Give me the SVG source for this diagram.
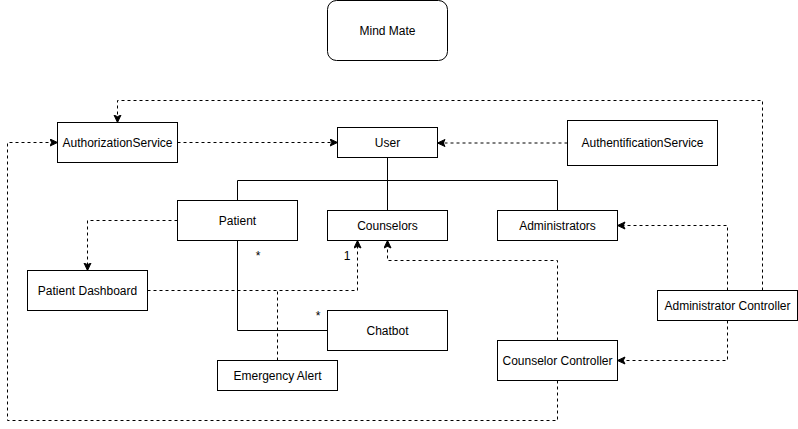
<svg xmlns="http://www.w3.org/2000/svg" width="798" height="429" viewBox="0 0 798 429">
<style>
.box{fill:#fff;stroke:#000;stroke-width:1}
.lbl{font-family:"Liberation Sans",Arial,sans-serif;font-size:12px;fill:#000;text-anchor:middle}
.ln{fill:none;stroke:#000;stroke-width:1}
.dash{fill:none;stroke:#000;stroke-width:1;stroke-dasharray:3 3}
</style>
<defs>
<marker id="arr" markerUnits="userSpaceOnUse" markerWidth="10" markerHeight="10" refX="8" refY="4" orient="auto">
<path d="M0.5,0.5 L8,4 L0.5,7.5 L2.2,4 Z" fill="#000" stroke="#000" stroke-width="1"/>
</marker>
</defs>
<rect width="798" height="429" fill="#fff"/>
<g id="connectors">
<path class="ln" d="M387.5,157.5 V210.5 M237.5,200.5 V180.5 H557.5 V210.5"/>
<path class="ln" d="M237.5,240.5 V330.5 H327.5"/>
<path class="dash" d="M177.5,142.5 H337.5" marker-end="url(#arr)"/>
<path class="dash" d="M567.5,143 H437.5" marker-end="url(#arr)"/>
<path class="dash" d="M177.5,220.5 H87.5 V270.5" marker-end="url(#arr)"/>
<path class="dash" d="M147.5,290.5 H357.5 V240.5" marker-end="url(#arr)"/>
<path class="dash" d="M277.5,360.5 V290.5"/>
<path class="dash" d="M557.5,340.5 V260.5 H387.5 V240.5" marker-end="url(#arr)"/>
<path class="dash" d="M557.5,380.5 V420.5 H7.5 V142.5 H57.5" marker-end="url(#arr)"/>
<path class="dash" d="M762.5,290.5 V100.5 H117.5 V122.5" marker-end="url(#arr)"/>
<path class="dash" d="M727.5,290.5 V225.5 H617.5" marker-end="url(#arr)"/>
<path class="dash" d="M727.5,320.5 V360.5 H617.5" marker-end="url(#arr)"/>
<text class="lbl" x="258" y="260">*</text>
<text class="lbl" x="347" y="260">1</text>
<text class="lbl" x="318" y="320">*</text>
</g>
<g id="mindmate"><rect class="box" x="327.5" y="0.5" width="120" height="60" rx="9"/><text class="lbl" x="387.5" y="35">Mind Mate</text></g>
<g id="authorization"><rect class="box" x="57.5" y="122.5" width="120" height="40"/><text class="lbl" x="117.5" y="147">AuthorizationService</text></g>
<g id="user"><rect class="box" x="337.5" y="127.5" width="100" height="30"/><text class="lbl" x="387.5" y="147">User</text></g>
<g id="authentification"><rect class="box" x="567.5" y="120.5" width="150" height="45"/><text class="lbl" x="642.5" y="147">AuthentificationService</text></g>
<g id="patient"><rect class="box" x="177.5" y="200.5" width="120" height="40"/><text class="lbl" x="237.5" y="225">Patient</text></g>
<g id="counselors"><rect class="box" x="327.5" y="210.5" width="120" height="30"/><text class="lbl" x="387.5" y="230">Counselors</text></g>
<g id="administrators"><rect class="box" x="497.5" y="210.5" width="120" height="30"/><text class="lbl" x="557.5" y="230">Administrators</text></g>
<g id="patientdashboard"><rect class="box" x="27.5" y="270.5" width="120" height="40"/><text class="lbl" x="87.5" y="295">Patient Dashboard</text></g>
<g id="chatbot"><rect class="box" x="327.5" y="310.5" width="120" height="40"/><text class="lbl" x="387.5" y="335">Chatbot</text></g>
<g id="emergency"><rect class="box" x="217.5" y="360.5" width="120" height="30"/><text class="lbl" x="277.5" y="380">Emergency Alert</text></g>
<g id="counselorcontroller"><rect class="box" x="497.5" y="340.5" width="120" height="40"/><text class="lbl" x="557.5" y="365">Counselor Controller</text></g>
<g id="admincontroller"><rect class="box" x="657.5" y="290.5" width="140" height="30"/><text class="lbl" x="727.5" y="310">Administrator Controller</text></g>
</svg>
